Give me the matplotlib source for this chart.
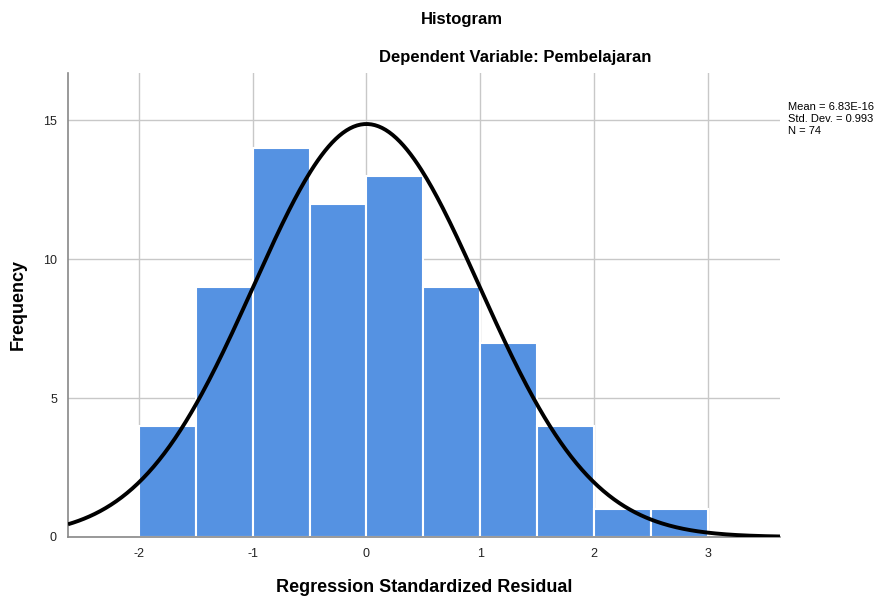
import numpy as np
import matplotlib.pyplot as plt

plt.rcParams['font.family'] = ['Liberation Sans', 'DejaVu Sans']
plt.rcParams['axes.unicode_minus'] = False

# histogram of regression standardized residuals
bin_edges = [-2.0, -1.5, -1.0, -0.5, 0.0, 0.5, 1.0, 1.5, 2.0, 2.5, 3.0]
counts = [4, 9, 14, 12, 13, 9, 7, 4, 1, 1]
mean = 6.83e-16
std = 0.993
n = 74

fig = plt.figure(figsize=(8.96, 6.01), dpi=100)
ax = fig.add_axes([0.0759, 0.1065, 0.7946, 0.772])

left = bin_edges[:-1]
width = np.diff(bin_edges)
ax.bar(left, counts, width=width, align='edge', color='#5592E2',
       edgecolor='white', linewidth=1.5, zorder=2)

# fitted normal curve scaled to counts
xs = np.linspace(-2.62, 3.63, 400)
bw = bin_edges[1] - bin_edges[0]
ys = n * bw * np.exp(-0.5 * ((xs - mean) / std) ** 2) / (std * np.sqrt(2 * np.pi))
ax.plot(xs, ys, color='black', linewidth=2.8, zorder=3, solid_capstyle='butt')

ax.set_xlim(-2.62, 3.63)
ax.set_ylim(0, 16.7)
ax.set_xticks([-2, -1, 0, 1, 2, 3])
ax.set_yticks([0, 5, 10, 15])
ax.grid(True, color='#C8C8C8', linewidth=1, zorder=0)
ax.set_axisbelow(True)
ax.tick_params(length=0, labelsize=9, colors='#222222')
ax.tick_params(axis='x', pad=8)
ax.tick_params(axis='y', pad=8)
for s in ['top', 'right']:
    ax.spines[s].set_visible(False)
for s in ['left', 'bottom']:
    ax.spines[s].set_color('#888888')
    ax.spines[s].set_linewidth(1.2)

fig.text(0.473, 0.022, 'Regression Standardized Residual', ha='center', va='center',
         fontsize=13, fontweight='bold')
fig.text(0.020, 0.493, 'Frequency', ha='center', va='center', rotation=90,
         fontsize=13, fontweight='bold')

fig.text(0.516, 0.967, 'Histogram', ha='center', va='center', fontsize=12, fontweight='bold')
fig.text(0.575, 0.905, 'Dependent Variable: Pembelajaran', ha='center', va='center',
         fontsize=12, fontweight='bold')

fig.text(0.880, 0.802, 'Mean = 6.83E-16\nStd. Dev. = 0.993\nN = 74', ha='left', va='center',
         fontsize=8, linespacing=1.2)

fig.savefig('out.png', dpi=100)
